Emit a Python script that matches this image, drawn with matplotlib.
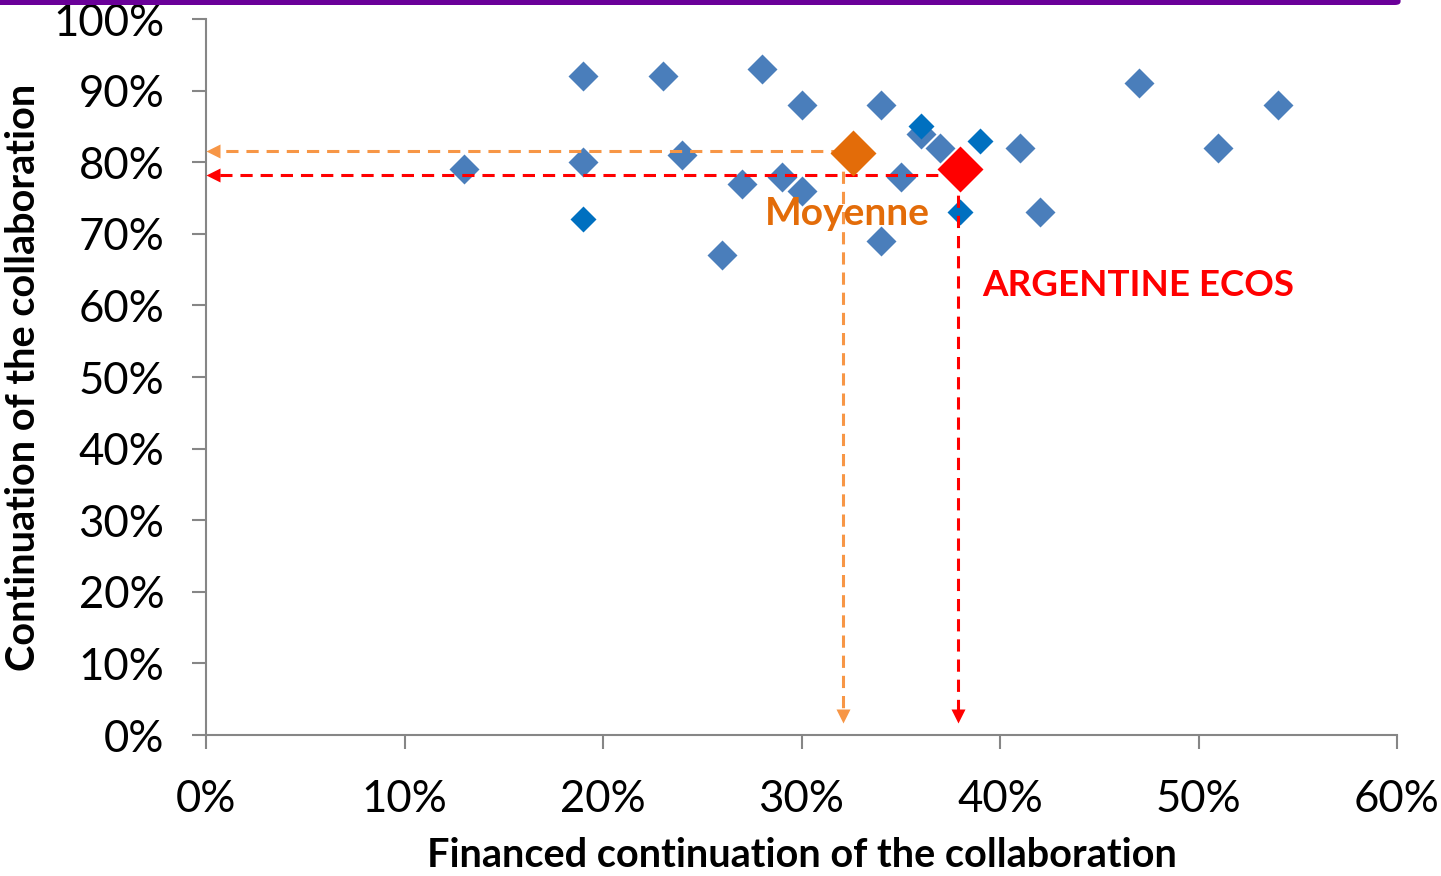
import matplotlib
matplotlib.use("Agg")
import matplotlib.pyplot as plt
from matplotlib.patches import FancyBboxPatch
from matplotlib.ticker import PercentFormatter

plt.rcParams["font.family"] = ["Lato", "DejaVu Sans"]

# --- données (en %) ---
pays_x = [13, 19, 19, 23, 24, 26, 27, 28, 29, 30, 30, 34, 34, 35, 36, 37, 41, 42, 47, 51, 54]
pays_y = [79, 92, 80, 92, 81, 67, 77, 93, 78, 88, 76, 88, 69, 78, 84, 82, 82, 73, 91, 82, 88]
autres_x = [19, 36, 39, 38]
autres_y = [72, 85, 83, 73]
moyenne_x = [32.6]
moyenne_y = [81.3]
ecos_x = [38.0]
ecos_y = [79.0]
# lignes guides (flèches)
guide_moy = (32.1, 81.6)
guide_ecos = (37.9, 78.2)

BLEU = "#4A7EBB"
BLEU2 = "#0070C0"
ORANGE = "#E36C09"
ORANGE_CL = "#F79646"
ROUGE = "#FF0000"
GRIS = "#868686"

fig = plt.figure(figsize=(14.41, 8.76), dpi=100)
ax = fig.add_axes([206 / 1441, 1 - 735 / 876, (1397 - 206) / 1441, (735 - 19) / 876])

ax.plot(pays_x, pays_y, "D", color=BLEU, ms=15, mec="none", zorder=3)
ax.plot(autres_x, autres_y, "D", color=BLEU2, ms=13, mec="none", zorder=3)


def fleche(gx, gy, couleur):
    ax.plot([gx, 0.6], [gy, gy], color=couleur, lw=2.2, ls=(0, (4, 2.6)), zorder=4)
    ax.plot([gx, gx], [gy, 2.8], color=couleur, lw=2.2, ls=(0, (4, 2.6)), zorder=4)
    ax.plot([0.35], [gy], marker="<", color=couleur, ms=10, mec="none", zorder=4, clip_on=False)
    ax.plot([gx], [2.6], marker="v", color=couleur, ms=10, mec="none", zorder=4, clip_on=False)


fleche(*guide_moy, ORANGE_CL)
fleche(*guide_ecos, ROUGE)

ax.plot(moyenne_x, moyenne_y, "D", color=ORANGE, ms=23, mec="none", zorder=5)
ax.plot(ecos_x, ecos_y, "D", color=ROUGE, ms=23, mec="none", zorder=5)

ax.text(32.3, 72.8, "Moyenne", color=ORANGE, fontsize=28, fontweight="bold",
        ha="center", va="center", zorder=6)
ax.text(39.1, 62.8, "ARGENTINE ECOS", color=ROUGE, fontsize=26.5, fontweight="bold",
        ha="left", va="center", zorder=6)

ax.set_xlim(0, 60)
ax.set_ylim(0, 100)
ax.set_xticks(range(0, 61, 10))
ax.set_yticks(range(0, 101, 10))
ax.xaxis.set_major_formatter(PercentFormatter(decimals=0))
ax.yaxis.set_major_formatter(PercentFormatter(decimals=0))
for s in ("top", "right"):
    ax.spines[s].set_visible(False)
for s in ("left", "bottom"):
    ax.spines[s].set_color(GRIS)
    ax.spines[s].set_linewidth(1.5)
ax.tick_params(axis="both", colors=GRIS, width=1.5, length=10, labelsize=31.5,
               labelcolor="black")
ax.tick_params(axis="y", pad=20)
ax.tick_params(axis="x", pad=22)

ax.set_xlabel("Financed continuation of the collaboration", fontsize=28.5,
              fontweight="bold", labelpad=12)
ax.set_ylabel("Continuation of the collaboration", fontsize=28.5,
              fontweight="bold", labelpad=8)

# bandeau violet en haut
fig.patches.append(FancyBboxPatch((-0.01, 1 - 5 / 876), 1415 / 1441, 0.02,
                                  boxstyle="round,pad=0,rounding_size=0.004",
                                  transform=fig.transFigure, facecolor="#6A0099",
                                  edgecolor="none"))

fig.savefig("out.png", dpi=100)
